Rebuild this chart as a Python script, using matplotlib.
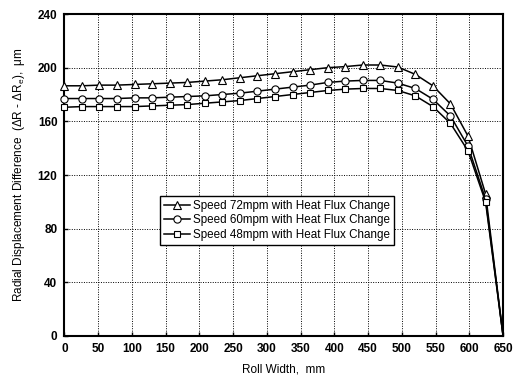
import matplotlib
matplotlib.use('Agg')
import matplotlib.pyplot as plt

plt.rcParams['font.family'] = ['Liberation Sans', 'DejaVu Sans']
plt.rcParams['mathtext.default'] = 'regular'

# roll width positions (mm)
roll_width = [0, 26, 52, 78, 104, 130, 156, 182, 208, 234, 260, 286, 312,
              338, 364, 390, 416, 442, 468, 494, 520, 546, 572, 598, 624, 650]

# radial displacement difference (um) for each roll speed
speed_72 = [186.5, 186.5, 187, 187, 187.5, 188, 188.5, 189, 190, 191, 192.5,
            194, 195.5, 197, 198.5, 200, 200.8, 202, 202, 200.5, 195, 186.5,
            173, 149, 106, 0]
speed_60 = [177, 177, 177, 177, 177.5, 177.5, 178, 178.5, 179, 180, 181,
            182.5, 184, 185.5, 187, 189, 190, 190.5, 190.5, 188.5, 184.5,
            176.5, 164, 141.5, 102, 0]
speed_48 = [170.5, 171, 171, 171, 171, 171.5, 172, 172.5, 173.5, 174.5, 175.5,
            177, 178.5, 180, 181.5, 183, 184, 184.5, 184.5, 183, 179, 171,
            158.5, 138, 100, 0]

labels = ['Speed 72mpm with Heat Flux Change',
          'Speed 60mpm with Heat Flux Change',
          'Speed 48mpm with Heat Flux Change']

fig = plt.figure(figsize=(5.16, 3.79), dpi=100)
ax = fig.add_axes([0.1248, 0.1135, 0.8502, 0.8495])

# no marker on the edge point at 650 mm
marks = list(range(len(roll_width) - 1))
styles = [('^', 5.5), ('o', 5.2), ('s', 4.8)]
for vals, (mk, ms), lab in zip([speed_72, speed_60, speed_48], styles, labels):
    ax.plot(roll_width, vals, color='black', lw=1.1, marker=mk, ms=ms,
            mfc='white', mec='black', mew=0.8, markevery=marks, label=lab,
            clip_on=False, zorder=3)

ax.set_xlim(0, 650)
ax.set_ylim(0, 240)
ax.set_xticks(range(0, 651, 50))
ax.set_yticks(range(0, 241, 40))
ax.grid(True, color='black', linestyle=(0, (1, 1.5)), linewidth=0.7)
ax.set_axisbelow(True)

for sp in ax.spines.values():
    sp.set_linewidth(1.5)

ax.tick_params(direction='in', length=3, width=1, labelsize=8.5, pad=5)
for t in ax.get_xticklabels() + ax.get_yticklabels():
    t.set_fontweight('bold')

ax.set_xlabel('Roll Width,  mm', fontsize=8.5, labelpad=6)
ax.set_ylabel('Radial Displacement Difference  (ΔR - ΔR$_e$),  μm',
              fontsize=8.5, labelpad=8)

leg = ax.legend(loc='upper left', bbox_to_anchor=(0.218, 0.435), fontsize=8.4,
                frameon=True, fancybox=False, borderpad=0.35, labelspacing=0.2,
                handlelength=2.2, handletextpad=0.3, borderaxespad=0)
leg.get_frame().set_edgecolor('black')
leg.get_frame().set_linewidth(1.0)
leg.get_frame().set_alpha(1)

fig.savefig('out.png', dpi=100)
